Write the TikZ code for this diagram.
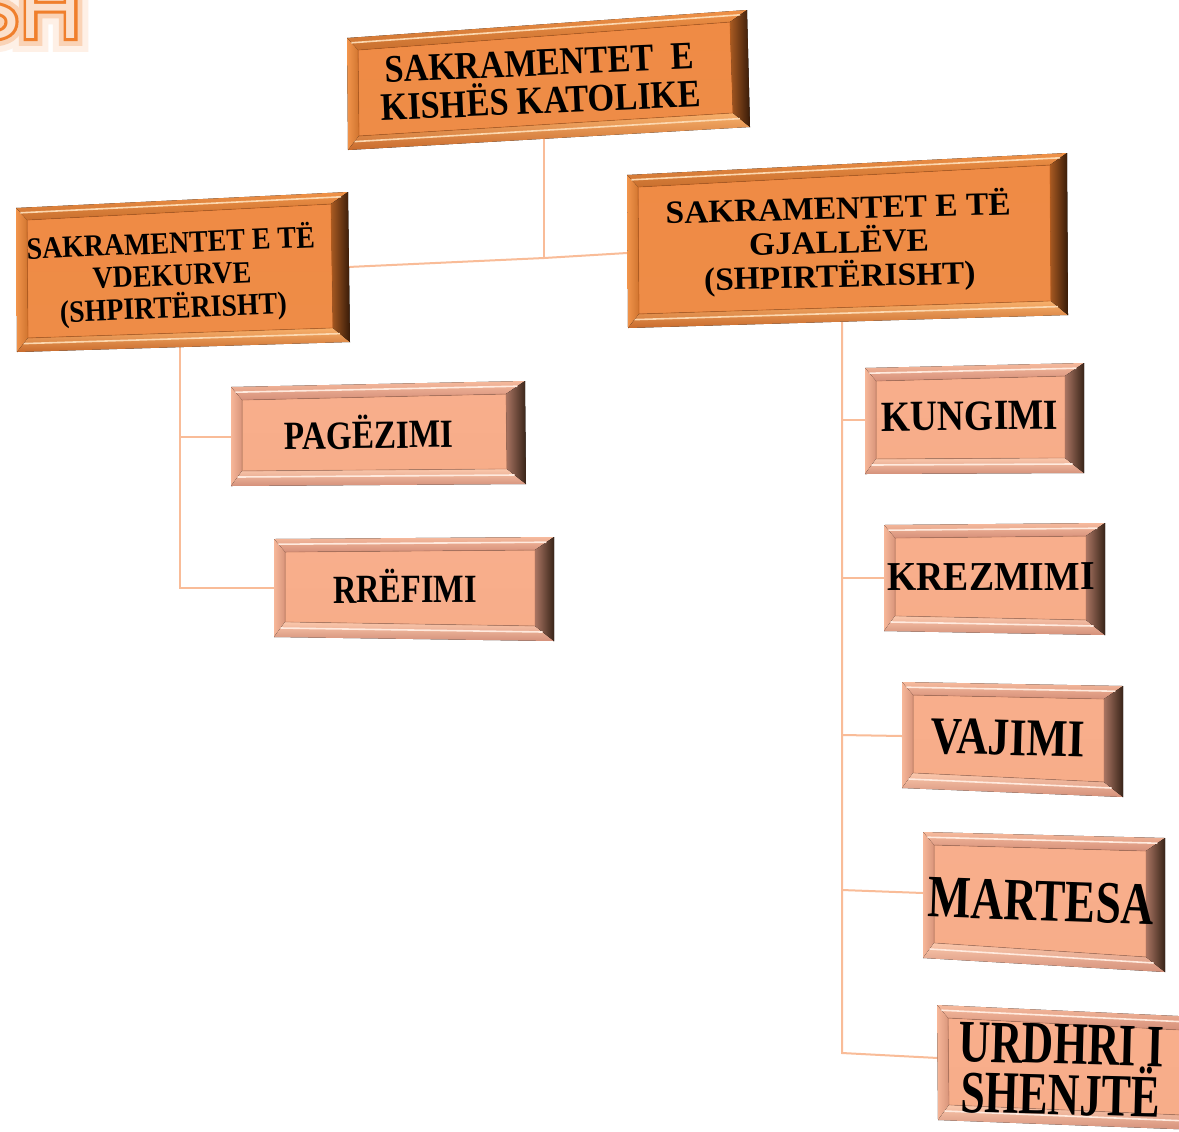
\documentclass[tikz,border=0pt]{standalone}
\usepackage{fontspec}
\setmainfont{Liberation Serif}
\newfontfamily\shfont{Liberation Sans}
\newfontfamily\shfontA[FakeBold=32]{Liberation Sans}
\newfontfamily\shfontB[FakeBold=18]{Liberation Sans}
\newfontfamily\shfontC[FakeBold=7]{Liberation Sans}
\usetikzlibrary{calc}

\definecolor{connc}{HTML}{F9BC98}
% big (orange) boxes
\definecolor{bfTop}{HTML}{EF8B45}
\definecolor{bfMid}{HTML}{F6A361}
\definecolor{bfBot}{HTML}{EE8C47}
\definecolor{btTop}{HTML}{F09248}
\definecolor{btBot}{HTML}{C8702F}
\definecolor{blL}{HTML}{F2954C}
\definecolor{blR}{HTML}{D0742F}
\definecolor{bbTop}{HTML}{F8B16C}
\definecolor{bbBot}{HTML}{C86A2C}
\definecolor{brL}{HTML}{A85A22}
\definecolor{brR}{HTML}{361A08}
\definecolor{bhl}{HTML}{FCD8B0}
\definecolor{bedge}{HTML}{B85A1C}
% small (salmon) boxes
\definecolor{sfTop}{HTML}{F8AE8C}
\definecolor{sfMid}{HTML}{FBBC9E}
\definecolor{sfBot}{HTML}{F7AD89}
\definecolor{stTop}{HTML}{F6BA9D}
\definecolor{stBot}{HTML}{D5907A}
\definecolor{slL}{HTML}{F7B799}
\definecolor{slR}{HTML}{D8947A}
\definecolor{sbTop}{HTML}{FBC8AC}
\definecolor{sbBot}{HTML}{D4907A}
\definecolor{srL}{HTML}{A87462}
\definecolor{srR}{HTML}{382418}
\definecolor{shl}{HTML}{FFEADE}
\definecolor{sedge}{HTML}{B07058}
% SH title fragment
\definecolor{shglowA}{HTML}{FEF0E6}
\definecolor{shglowB}{HTML}{FAD3B6}
\definecolor{shline}{HTML}{F07F2C}
\definecolor{shfill}{HTML}{FBE0CC}

\def\bigwl{11}\def\bigwt{12}\def\bigwr{17}\def\bigwb{14}
\def\smallwl{11}\def\smallwt{13}\def\smallwr{19}\def\smallwb{15}

\tikzset{
  conn/.style={draw=connc, line width=1pt},
  lbl/.style={align=center, inner sep=0pt, text=black},
  shtext/.style={anchor=base east, inner sep=0pt},
  bigface/.style={top color=bfTop, middle color=bfMid, bottom color=bfBot},
  bigtop/.style={top color=btTop, bottom color=btBot},
  bigleft/.style={left color=blL, right color=blR},
  bigbot/.style={top color=bbTop, bottom color=bbBot},
  bigright/.style={left color=brL, right color=brR},
  bighl/.style={draw=bhl, line width=0.8pt},
  bigedge/.style={draw=bedge, line width=0.4pt, draw opacity=0.6},
  smallface/.style={top color=sfTop, middle color=sfMid, bottom color=sfBot},
  smalltop/.style={top color=stTop, bottom color=stBot},
  smallleft/.style={left color=slL, right color=slR},
  smallbot/.style={top color=sbTop, bottom color=sbBot},
  smallright/.style={left color=srL, right color=srR},
  smallhl/.style={draw=shl, line width=0.8pt},
  smalledge/.style={draw=sedge, line width=0.4pt, draw opacity=0.5},
}

\newcommand\bevbox[6]{%
  \edef\bwl{\csname#6wl\endcsname}\edef\bwt{\csname#6wt\endcsname}%
  \edef\bwr{\csname#6wr\endcsname}\edef\bwb{\csname#6wb\endcsname}%
  \coordinate (#1-A) at (#2); \coordinate (#1-B) at (#3);
  \coordinate (#1-C) at (#4); \coordinate (#1-D) at (#5);
  \coordinate (#1-a) at ($(#1-A)+(\bwl,\bwt)$);
  \coordinate (#1-b) at ($(#1-B)+(-\bwr,\bwt)$);
  \coordinate (#1-c) at ($(#1-C)+(-\bwr,-\bwb)$);
  \coordinate (#1-d) at ($(#1-D)+(\bwl,-\bwb)$);
  \fill[#6face] (#1-a)--(#1-b)--(#1-c)--(#1-d)--cycle;
  \fill[#6top] (#1-A)--(#1-B)--(#1-b)--(#1-a)--cycle;
  \fill[#6left] (#1-A)--(#1-a)--(#1-d)--(#1-D)--cycle;
  \fill[#6bot] (#1-D)--(#1-d)--(#1-c)--(#1-C)--cycle;
  \fill[#6right] (#1-B)--(#1-C)--(#1-c)--(#1-b)--cycle;
  \draw[#6hl] ($(#1-A)!0.4!(#1-a)$) -- ($(#1-B)!0.4!(#1-b)$);
  \draw[#6hl] ($(#1-D)!0.6!(#1-d)$) -- ($(#1-C)!0.6!(#1-c)$);
  \draw[#6edge] (#1-a)--(#1-b)--(#1-c)--(#1-d)--cycle;
}

\begin{document}
\begin{tikzpicture}[x=0.5pt,y=-0.5pt]
\useasboundingbox (0,0) rectangle (1179,1131);
\fill[white] (0,0) rectangle (1179,1131);

% title fragment "SH" (cut off by the top edge), glowing outline letters
\node[shtext, text=shglowA, font=\shfontA\fontsize{43}{43}\selectfont] (shA) at (82,38) {SH};
\node[shtext, text=shglowB, font=\shfontB\fontsize{43}{43}\selectfont] (shB) at (82,38) {SH};
\node[shtext, text=shline, font=\shfontC\fontsize{43}{43}\selectfont] (shC) at (82,38) {SH};
\node[shtext, text=shfill, font=\shfont\fontsize{43}{43}\selectfont] (sh) at (82,38) {SH};

% connector points
\coordinate (c0b) at (544,139); \coordinate (j0) at (544,258);
\coordinate (c1r) at (348,267); \coordinate (c2l) at (627,253);
\coordinate (c1b) at (180,347); \coordinate (j1a) at (180,437); \coordinate (j1b) at (180,588);
\coordinate (c3l) at (231,437); \coordinate (c4l) at (274,588);
\coordinate (c2b) at (842,322);
\coordinate (j2a) at (842,420); \coordinate (c5l) at (865,420);
\coordinate (j2b) at (842,578); \coordinate (c6l) at (884,578);
\coordinate (j2c) at (842,735); \coordinate (c7l) at (902,736);
\coordinate (j2d) at (842,890); \coordinate (c8l) at (923,893);
\coordinate (j2e) at (842,1053); \coordinate (c9l) at (938,1058);

\draw[conn] (c0b) -- (j0);
\draw[conn] (c1r) -- (j0) -- (c2l);
\draw[conn] (c1b) -- (j1b) -- (c4l);
\draw[conn] (j1a) -- (c3l);
\draw[conn] (c2b) -- (j2e) -- (c9l);
\draw[conn] (j2a) -- (c5l);
\draw[conn] (j2b) -- (c6l);
\draw[conn] (j2c) -- (c7l);
\draw[conn] (j2d) -- (c8l);

% boxes
\bevbox{k0}{347,38}{747,10}{750,127}{348,150}{big}
\bevbox{k1}{16,208}{348,192}{350,342}{17,352}{big}
\bevbox{k2}{627,175}{1067,153}{1068,315}{628,328}{big}
\bevbox{pa}{231,387}{525,381}{526,484}{231,486}{small}
\bevbox{rr}{274,539}{554,537}{554,641}{274,637}{small}
\bevbox{ku}{865,368}{1084,363}{1084,473}{865,474}{small}
\bevbox{kr}{884,525}{1105,523}{1105,635}{884,631}{small}
\bevbox{va}{902,682}{1123,686}{1123,797}{902,788}{small}
\bevbox{ma}{923,832}{1165,838}{1165,972}{923,958}{small}
\bevbox{ur}{937,1005}{1200,1017}{1200,1130}{938,1120}{small}

% labels
\node[lbl, rotate=2.5, xscale=0.88, font=\bfseries\fontsize{19.5}{19}\selectfont] (t0) at (540,82)
  {SAKRAMENTET\ \ E\\KISHËS KATOLIKE};
\node[lbl, rotate=2.3, xscale=0.9, font=\bfseries\fontsize{15.5}{16.2}\selectfont] (t1) at (172,276)
  {SAKRAMENTET E TË\\VDEKURVE\\(SHPIRTËRISHT)};
\node[lbl, rotate=1.5, xscale=1.03, font=\bfseries\fontsize{16.2}{17}\selectfont] (t2) at (839,243)
  {SAKRAMENTET E TË\\GJALLËVE\\(SHPIRTËRISHT)};
\node[lbl, rotate=0.8, xscale=0.83, font=\bfseries\fontsize{20}{20}\selectfont] (t3) at (369,432) {PAGËZIMI};
\node[lbl, rotate=0.3, xscale=0.81, font=\bfseries\fontsize{20}{20}\selectfont] (t4) at (405,586) {RRËFIMI};
\node[lbl, rotate=0.7, xscale=0.87, font=\bfseries\fontsize{21.5}{21.5}\selectfont] (t5) at (970,416) {KUNGIMI};
\node[lbl, rotate=0.3, xscale=0.92, font=\bfseries\fontsize{20.5}{20.5}\selectfont] (t6) at (991,577) {KREZMIMI};
\node[lbl, rotate=-1.5, xscale=0.82, font=\bfseries\fontsize{26.5}{26.5}\selectfont] (t7) at (1008,738) {VAJIMI};
\node[lbl, rotate=-2, xscale=0.76, font=\bfseries\fontsize{30}{30}\selectfont] (t8) at (1041,901) {MARTESA};
\node[lbl, rotate=-1.5, xscale=0.73, font=\bfseries\fontsize{30}{25.5}\selectfont] (t9) at (1061,1070)
  {URDHRI I\\SHENJTË};
\end{tikzpicture}
\end{document}
